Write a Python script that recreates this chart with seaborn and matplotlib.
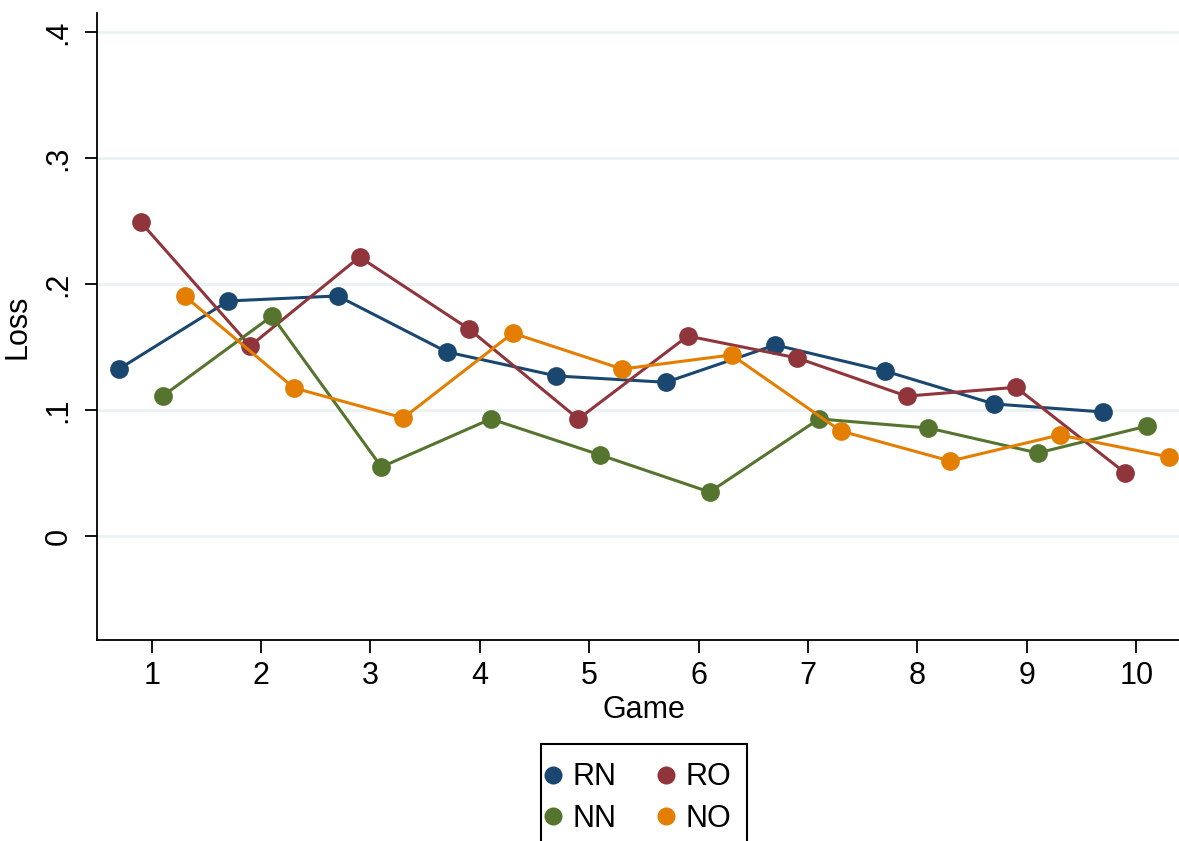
import numpy as np
import pandas as pd
import matplotlib
matplotlib.use("Agg")
import matplotlib.pyplot as plt
from matplotlib.lines import Line2D
from matplotlib.patches import Rectangle
import seaborn as sns

games = list(range(1, 11))
groups = ["RN", "RO", "NN", "NO"]
offsets = [-0.3, -0.1, 0.1, 0.3]
colors = ["#1a476f", "#90353b", "#55752f", "#e37e00"]

rn = [0.1325, 0.1865, 0.1905, 0.146, 0.127, 0.122, 0.1516, 0.131, 0.1048, 0.0984]
ro = [0.249, 0.1508, 0.2214, 0.1643, 0.0929, 0.1587, 0.1413, 0.111, 0.118, 0.050]
nn = [0.111, 0.1746, 0.0548, 0.0929, 0.0643, 0.0349, 0.0929, 0.0857, 0.0659, 0.0873]
no = [0.1905, 0.1175, 0.0937, 0.161, 0.1325, 0.1437, 0.0833, 0.0595, 0.0802, 0.0627]

yticks = [0, 0.1, 0.2, 0.3, 0.4]
ytick_labels = ["0", ".1", ".2", ".3", ".4"]

series = {"RN": rn, "RO": ro, "NN": nn, "NO": no}
rows = []
for g, off in zip(groups, offsets):
    for gm, v in zip(games, series[g]):
        rows.append({"Game": gm + off, "Loss": v, "Group": g})
df = pd.DataFrame(rows)

sns.set_theme(style="white")
plt.rcParams["font.family"] = ["Liberation Sans", "DejaVu Sans"]

W, H = 1179, 841
fig = plt.figure(figsize=(W / 100, H / 100), dpi=100)
# axes extends past the right edge (the original is cropped there)
ax = fig.add_axes([97 / W, (H - 640) / H, (1191 - 97) / W, (640 - 13) / H])

for y in yticks:
    ax.axhline(y, color="#eaf2f3", lw=2, zorder=0)

sns.lineplot(data=df, x="Game", y="Loss", hue="Group", hue_order=groups,
             palette=colors, marker="o", markersize=13.5, markeredgewidth=0,
             linewidth=2.2, ax=ax, legend=False, zorder=3)

ax.set_xlim(0.5, 10.5)
ax.set_ylim(-0.0825, 0.415)
ax.set_xticks(games)
ax.set_xticklabels([str(g) for g in games])
ax.set_yticks(yticks)
ax.set_yticklabels(ytick_labels, rotation=90, va="center")
ax.tick_params(axis="both", direction="out", length=9, width=1.3, color="black",
               labelsize=22, pad=6, left=True, bottom=True, labelcolor="black")
ax.tick_params(axis="y", pad=8)
for s in ["top", "right"]:
    ax.spines[s].set_visible(False)
for s in ["left", "bottom"]:
    ax.spines[s].set_color("black")
    ax.spines[s].set_linewidth(1.3)
ax.set_xlabel("Game", fontsize=22, labelpad=3, color="black")
ax.set_ylabel("Loss", fontsize=22, labelpad=8, color="black")
ax.grid(False)

# legend: column-wise fill -> order RN, NN, RO, NO gives rows RN RO / NN NO
order = [0, 2, 1, 3]
handles = [Line2D([0], [0], marker="o", linestyle="none", markersize=13,
                  markerfacecolor=colors[i], markeredgewidth=0, label=groups[i])
           for i in order]
leg = fig.legend(handles=handles, labels=[groups[i] for i in order], ncol=2,
                 loc="center", bbox_to_anchor=(634.5 / W, 1 - 798 / H),
                 fontsize=22, frameon=False, handletextpad=0.15,
                 columnspacing=1.1, borderpad=0.1, labelspacing=0.38,
                 handlelength=1.0)
for t in leg.get_texts():
    t.set_color("black")
fig.patches.append(Rectangle((541 / W, -0.05), (747 - 541) / W, 0.05 + (H - 744) / H,
                             transform=fig.transFigure, fill=False,
                             edgecolor="black", linewidth=1.5))

fig.savefig("out.png", dpi=100, facecolor="white")
